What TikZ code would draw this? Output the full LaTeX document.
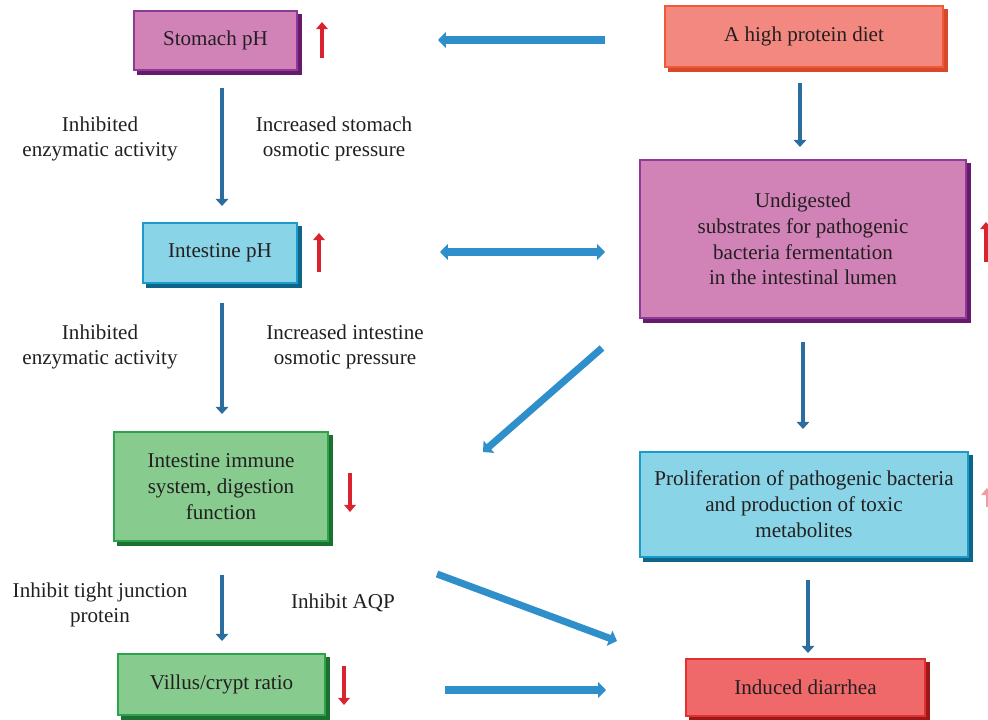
\documentclass[tikz,border=0pt]{standalone}
\usepackage{fontspec}
\setmainfont{Liberation Serif}
\usetikzlibrary{arrows.meta,shadows}

\definecolor{rosa}{HTML}{D183B8}
\definecolor{morado}{HTML}{8E3A99}
\definecolor{moradoosc}{HTML}{651A6C}
\definecolor{salmon}{HTML}{F28880}
\definecolor{naranja}{HTML}{EE5A36}
\definecolor{naranjaosc}{HTML}{D8482A}
\definecolor{celeste}{HTML}{89D4E6}
\definecolor{azulborde}{HTML}{1A9BC9}
\definecolor{azulosc}{HTML}{0E6589}
\definecolor{verde}{HTML}{88CB8F}
\definecolor{verdeborde}{HTML}{2CA24B}
\definecolor{verdeosc}{HTML}{1B7032}
\definecolor{rojo}{HTML}{F0696A}
\definecolor{rojoborde}{HTML}{E0302F}
\definecolor{rojoosc}{HTML}{9E1719}
\definecolor{flecha}{HTML}{2E8FCB}
\definecolor{flechaosc}{HTML}{2A6D9E}
\definecolor{rojoflecha}{HTML}{D9242F}
\definecolor{texto}{HTML}{231F20}

\tikzset{
  caja/.style n args={3}{draw=#2, fill=#1, line width=1.5pt, text=texto,
    align=center, inner sep=2pt,
    copy shadow={shadow xshift=0.08cm, shadow yshift=-0.08cm, fill=#3, draw=#3}},
  etiqueta/.style={align=center, text=texto},
  bloque/.style={flecha, line width=4pt, -{Triangle[width=9pt,length=4.5pt]}},
  bloquedoble/.style={flecha, line width=4pt, {Triangle[width=9pt,length=4.5pt]}-{Triangle[width=9pt,length=4.5pt]}},
  delgada/.style={flechaosc, line width=2.6pt, -{Triangle[width=7pt,length=4pt]}},
  subida/.style={rojoflecha, line width=2.3pt, -{Triangle[width=6.5pt,length=4pt]}}
}

\begin{document}
\begin{tikzpicture}[x=0.02cm, y=-0.02cm, font=\fontsize{12}{14.7}\selectfont]
    \useasboundingbox (0,0) rectangle (988,720);

    % Cajas principales
    \node[caja={rosa}{morado}{moradoosc}, minimum width=3.26cm, minimum height=1.18cm] (estomago) at (215.5,40.5) {Stomach pH};
    \node[caja={salmon}{naranja}{naranjaosc}, minimum width=5.56cm, minimum height=1.22cm] (dieta) at (804,36.5) {A high protein diet};
    \node[caja={celeste}{azulborde}{azulosc}, minimum width=3.08cm, minimum height=1.2cm] (phint) at (220,253) {Intestine pH};
    \node[caja={rosa}{morado}{moradoosc}, minimum width=6.52cm, minimum height=3.16cm] (sustratos) at (803,239) {Undigested\\substrates for pathogenic\\bacteria fermentation\\in the intestinal lumen};
    \node[caja={verde}{verdeborde}{verdeosc}, minimum width=4.28cm, minimum height=2.18cm] (inmune) at (221,486.5) {Intestine immune\\system, digestion\\function};
    \node[caja={celeste}{azulborde}{azulosc}, minimum width=6.56cm, minimum height=2.1cm] (bacterias) at (804,504.5) {Proliferation of pathogenic bacteria\\and production of toxic\\metabolites};
    \node[caja={verde}{verdeborde}{verdeosc}, minimum width=4.14cm, minimum height=1.22cm] (vellos) at (221.5,684.5) {Villus/crypt ratio};
    \node[caja={rojo}{rojoborde}{rojoosc}, minimum width=4.78cm, minimum height=1.14cm] (diarrea) at (805.5,687.5) {Induced diarrhea};

    % Etiquetas de las flechas
    \node[etiqueta] (enz1) at (100,139) {Inhibited\\enzymatic activity};
    \node[etiqueta] (osm1) at (334,139) {Increased stomach\\osmotic pressure};
    \node[etiqueta] (enz2) at (100,347) {Inhibited\\enzymatic activity};
    \node[etiqueta] (osm2) at (345,347) {Increased intestine\\osmotic pressure};
    \node[etiqueta] (union) at (100,605) {Inhibit tight junction\\protein};
    \node[etiqueta] (aqp) at (343,603) {Inhibit AQP};

    % Extremos de las flechas
    \coordinate (d1) at (605,40);    \coordinate (e1) at (438,40);
    \coordinate (d2) at (440,252);   \coordinate (e2) at (605,252);
    \coordinate (d3) at (602,348);   \coordinate (e3) at (483,452);
    \coordinate (d4) at (437,574);   \coordinate (e4) at (617,641);
    \coordinate (d5) at (445,690);   \coordinate (e5) at (606,690);
    \coordinate (v1) at (222,88);    \coordinate (w1) at (222,206);
    \coordinate (v2) at (222,303);   \coordinate (w2) at (222,414);
    \coordinate (v3) at (222,575);   \coordinate (w3) at (222,641);
    \coordinate (v4) at (800,83);    \coordinate (w4) at (800,147);
    \coordinate (v5) at (803,342);   \coordinate (w5) at (803,429);
    \coordinate (v6) at (808,580);   \coordinate (w6) at (808,653);

    % Flechas azules gruesas
    \draw[bloque] (d1) -- (e1);
    \draw[bloquedoble] (d2) -- (e2);
    \draw[bloque] (d3) -- (e3);
    \draw[bloque] (d4) -- (e4);
    \draw[bloque] (d5) -- (e5);

    % Flechas verticales
    \foreach \i in {1,...,6}
        \draw[delgada] (v\i) -- (w\i);

    % Flechas rojas (sube / baja)
    \coordinate (r1) at (322,58);  \coordinate (s1) at (322,22);
    \coordinate (r2) at (319,272); \coordinate (s2) at (319,233);
    \coordinate (r3) at (350,473); \coordinate (s3) at (350,512);
    \coordinate (r4) at (344,666); \coordinate (s4) at (344,705);
    \coordinate (r5) at (986,262); \coordinate (s5) at (986,222);
    \draw[subida] (r1) -- (s1);
    \draw[subida] (r2) -- (s2);
    \draw[subida] (r3) -- (s3);
    \draw[subida] (r4) -- (s4);
    \draw[subida] (r5) -- (s5);
    \coordinate (r6) at (987,507); \coordinate (s6) at (987,488);
    \draw[subida, rojoflecha!45, line width=1pt] (r6) -- (s6);

\end{tikzpicture}
\end{document}
